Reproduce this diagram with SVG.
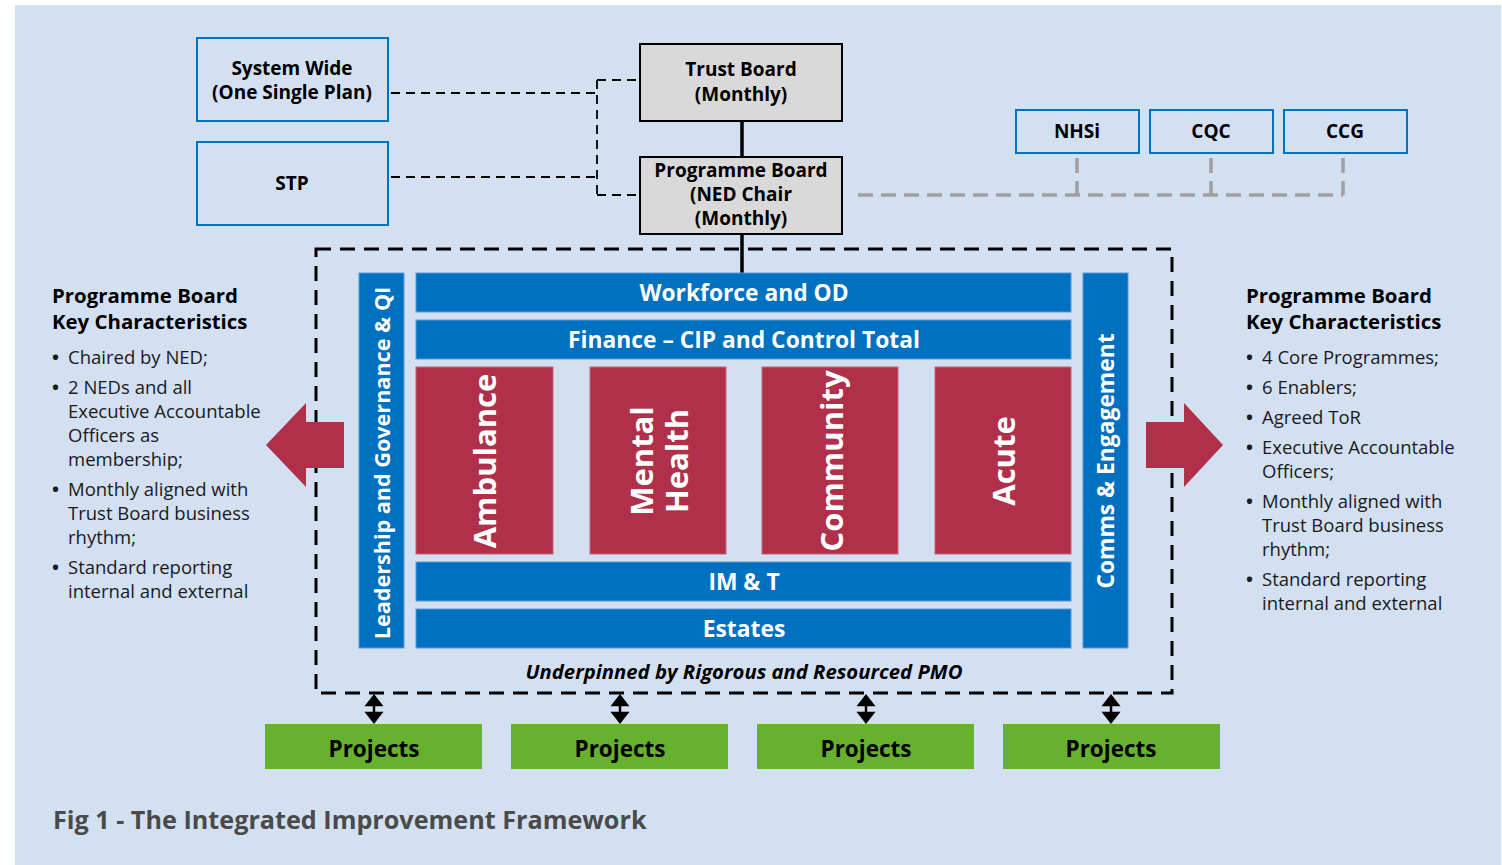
<svg xmlns="http://www.w3.org/2000/svg" width="1502" height="865" viewBox="0 0 1502 865">
<defs>
<style>
.bg{fill:#D3E0F2}
.bbox{fill:#D3E0F2;stroke:#0070C0;stroke-width:2}
.gbox{fill:#D9D9D9;stroke:#000;stroke-width:2}
.blue{fill:#0070C0;stroke:#5B9BD5;stroke-width:1}
.red{fill:#B0304A;stroke:#C8607A;stroke-width:1}
.green{fill:#66B22E}
.t{font-family:"Open Sans","Noto Sans",sans-serif}
.nb{font-weight:bold;font-size:19px;fill:#000;text-anchor:middle}
.pj{font-weight:bold;font-size:22.5px;fill:#000;text-anchor:middle}
.wb{font-weight:bold;font-size:22.8px;fill:#fff;text-anchor:middle}
.rb{font-weight:bold;font-size:31px;fill:#fff;text-anchor:middle}
.hd{font-weight:bold;font-size:20.4px;fill:#000}
.li{font-size:18.5px;fill:#1a1a1a}
.bu{font-weight:bold}
.dash{fill:none;stroke:#000;stroke-width:1.8;stroke-dasharray:9 6}
.gdash{fill:none;stroke:#A0A0A0;stroke-width:3.5;stroke-dasharray:15 8}
.outer{fill:none;stroke:#000;stroke-width:3;stroke-dasharray:15 9}
.solid{stroke:#000;stroke-width:3.5}
</style>
</defs>
<rect class="bg" x="15" y="5" width="1486" height="860"/>

<g id="connectors">
<path class="dash" d="M391,93 H597 M391,177 H597 M597,80 V195 M597,80 H639 M597,195 H639"/>
<path class="gdash" d="M858,195 H1343 M1077,158 V195 M1211,158 V195 M1343,158 V195"/>
<line class="solid" x1="742" y1="121" x2="742" y2="156"/>
<line class="solid" x1="742" y1="235" x2="742" y2="273"/>
<g stroke="#000" stroke-width="2.5" fill="#000">
<line x1="374" y1="703" x2="374" y2="715"/><polygon points="367,705 381,705 374,696"/><polygon points="367,713 381,713 374,722"/>
<line x1="620" y1="703" x2="620" y2="715"/><polygon points="613,705 627,705 620,696"/><polygon points="613,713 627,713 620,722"/>
<line x1="866" y1="703" x2="866" y2="715"/><polygon points="859,705 873,705 866,696"/><polygon points="859,713 873,713 866,722"/>
<line x1="1111" y1="703" x2="1111" y2="715"/><polygon points="1104,705 1118,705 1111,696"/><polygon points="1104,713 1118,713 1111,722"/>
</g>
</g>

<g id="system-wide"><rect class="bbox" x="197" y="38" width="191" height="83"/><text class="t nb" x="292" y="75">System Wide</text><text class="t nb" x="292" y="99">(One Single Plan)</text></g>
<g id="stp"><rect class="bbox" x="197" y="142" width="191" height="83"/><text class="t nb" x="292" y="190">STP</text></g>
<g id="trust-board"><rect class="gbox" x="640" y="44" width="202" height="77"/><text class="t nb" x="741" y="76">Trust Board</text><text class="t nb" x="741" y="101">(Monthly)</text></g>
<g id="programme-board"><rect class="gbox" x="640" y="157" width="202" height="77"/><text class="t nb" x="741" y="177">Programme Board</text><text class="t nb" x="741" y="201">(NED Chair</text><text class="t nb" x="741" y="225">(Monthly)</text></g>
<g id="nhsi"><rect class="bbox" x="1016" y="110" width="123" height="43"/><text class="t nb" x="1077" y="138">NHSi</text></g>
<g id="cqc"><rect class="bbox" x="1150" y="110" width="123" height="43"/><text class="t nb" x="1211" y="138">CQC</text></g>
<g id="ccg"><rect class="bbox" x="1284" y="110" width="123" height="43"/><text class="t nb" x="1345" y="138">CCG</text></g>

<g id="framework">
<rect class="outer" x="316" y="249" width="856" height="444"/>
<text class="t" x="744" y="679" text-anchor="middle" font-size="20.3" font-weight="bold" font-style="italic" fill="#000">Underpinned by Rigorous and Resourced PMO</text>
</g>

<g id="left-arrow"><polygon fill="#B0304A" points="266,445 306,403 306,422 344,422 344,468 306,468 306,487"/></g>
<g id="right-arrow"><polygon fill="#B0304A" points="1223,445 1184,403 1184,422 1146,422 1146,468 1184,468 1184,487"/></g>

<g id="leadership"><rect class="blue" x="359" y="273" width="45" height="375"/><text class="t" transform="translate(390,463) rotate(-90)" text-anchor="middle" font-size="21.6" font-weight="bold" fill="#fff">Leadership and Governance &amp; QI</text></g>
<g id="comms"><rect class="blue" x="1083" y="273" width="45" height="375"/><text class="t" transform="translate(1114,461) rotate(-90)" text-anchor="middle" font-size="22.8" font-weight="bold" fill="#fff">Comms &amp; Engagement</text></g>
<g id="workforce"><rect class="blue" x="416" y="273" width="655" height="39"/><text class="t wb" x="744" y="301">Workforce and OD</text></g>
<g id="finance"><rect class="blue" x="416" y="320" width="655" height="39"/><text class="t wb" x="744" y="348">Finance – CIP and Control Total</text></g>
<g id="ambulance"><rect class="red" x="416" y="367" width="137" height="187"/><text class="t rb" transform="translate(496,461) rotate(-90)">Ambulance</text></g>
<g id="mental-health"><rect class="red" x="590" y="367" width="136" height="187"/><text class="t rb" transform="translate(653,461) rotate(-90)">Mental</text><text class="t rb" transform="translate(688,461) rotate(-90)">Health</text></g>
<g id="community"><rect class="red" x="762" y="367" width="136" height="187"/><text class="t rb" transform="translate(843,461) rotate(-90)">Community</text></g>
<g id="acute"><rect class="red" x="935" y="367" width="136" height="187"/><text class="t rb" transform="translate(1015,461) rotate(-90)">Acute</text></g>
<g id="imt"><rect class="blue" x="416" y="562" width="655" height="39"/><text class="t wb" x="744" y="590">IM &amp; T</text></g>
<g id="estates"><rect class="blue" x="416" y="609" width="655" height="39"/><text class="t wb" x="744" y="637">Estates</text></g>

<g id="projects-1"><rect class="green" x="265" y="724" width="217" height="45"/><text class="t pj" x="374" y="757">Projects</text></g>
<g id="projects-2"><rect class="green" x="511" y="724" width="217" height="45"/><text class="t pj" x="620" y="757">Projects</text></g>
<g id="projects-3"><rect class="green" x="757" y="724" width="217" height="45"/><text class="t pj" x="866" y="757">Projects</text></g>
<g id="projects-4"><rect class="green" x="1003" y="724" width="217" height="45"/><text class="t pj" x="1111" y="757">Projects</text></g>

<g id="left-text" class="t">
<text class="hd" x="52" y="303">Programme Board</text>
<text class="hd" x="52" y="329">Key Characteristics</text>
<g class="li">
<text x="52" y="364"><tspan class="bu">•</tspan><tspan x="68">Chaired by NED;</tspan></text>
<text x="52" y="394"><tspan class="bu">•</tspan><tspan x="68">2 NEDs and all</tspan></text>
<text x="68" y="418">Executive Accountable</text>
<text x="68" y="442">Officers as</text>
<text x="68" y="466">membership;</text>
<text x="52" y="496"><tspan class="bu">•</tspan><tspan x="68">Monthly aligned with</tspan></text>
<text x="68" y="520">Trust Board business</text>
<text x="68" y="544">rhythm;</text>
<text x="52" y="574"><tspan class="bu">•</tspan><tspan x="68">Standard reporting</tspan></text>
<text x="68" y="598">internal and external</text>
</g>
</g>
<g id="right-text" class="t">
<text class="hd" x="1246" y="303">Programme Board</text>
<text class="hd" x="1246" y="329">Key Characteristics</text>
<g class="li">
<text x="1246" y="364"><tspan class="bu">•</tspan><tspan x="1262">4 Core Programmes;</tspan></text>
<text x="1246" y="394"><tspan class="bu">•</tspan><tspan x="1262">6 Enablers;</tspan></text>
<text x="1246" y="424"><tspan class="bu">•</tspan><tspan x="1262">Agreed ToR</tspan></text>
<text x="1246" y="454"><tspan class="bu">•</tspan><tspan x="1262">Executive Accountable</tspan></text>
<text x="1262" y="478">Officers;</text>
<text x="1246" y="508"><tspan class="bu">•</tspan><tspan x="1262">Monthly aligned with</tspan></text>
<text x="1262" y="532">Trust Board business</text>
<text x="1262" y="556">rhythm;</text>
<text x="1246" y="586"><tspan class="bu">•</tspan><tspan x="1262">Standard reporting</tspan></text>
<text x="1262" y="610">internal and external</text>
</g>
</g>
<text class="t" x="53" y="829" font-size="25.2" font-weight="bold" fill="#4A4A4A">Fig 1 - The Integrated Improvement Framework</text>
</svg>
